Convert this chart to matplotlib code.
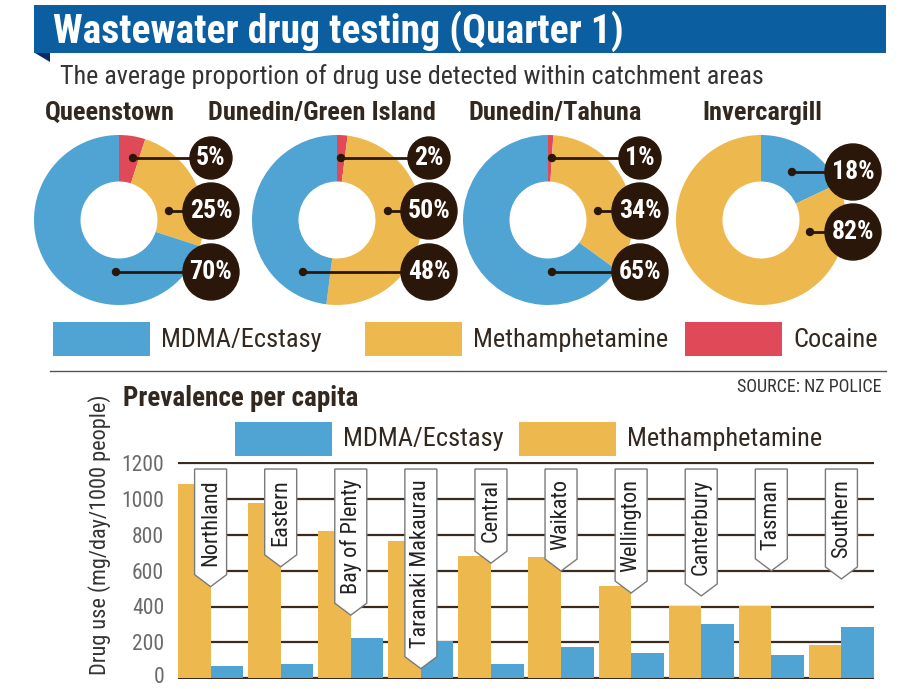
import matplotlib
matplotlib.use("Agg")
import matplotlib.pyplot as plt
import matplotlib.transforms as mtransforms
from matplotlib import font_manager
from matplotlib.patches import Rectangle, Circle, Polygon
import numpy as np

W, H = 920, 689

# share of detected drug use per catchment (%)
cities = ["Queenstown", "Dunedin/Green Island", "Dunedin/Tahuna", "Invercargill"]
mdma_share = [70, 48, 65, 18]
meth_share = [25, 50, 34, 82]
cocaine_share = [5, 2, 1, 0]

# prevalence per capita (mg/day/1000 people)
districts = ["Northland", "Eastern", "Bay of Plenty", "Taranaki Makaurau", "Central",
             "Waikato", "Wellington", "Canterbury", "Tasman", "Southern"]
meth_use = [1085, 978, 820, 764, 680, 677, 513, 405, 405, 185]
mdma_use = [68, 78, 223, 205, 76, 172, 140, 303, 127, 283]
yticks = [0, 200, 400, 600, 800, 1000, 1200]

BLUE = "#4fa4d3"
YELLOW = "#edb94f"
RED = "#e04a58"
BROWN = "#2a1709"
TEXT = "#33281f"
GREY = "#6a6a6a"
GRID = "#3b2b1f"

# pick a narrow face if one is installed
available = {f.name for f in font_manager.fontManager.ttflist}
narrow = next((f for f in ["Roboto Condensed", "Liberation Sans Narrow",
                           "Open Sans Condensed", "DejaVu Sans Condensed"]
               if f in available), "DejaVu Sans")
plt.rcParams["font.family"] = [narrow, "DejaVu Sans"]

fig = plt.figure(figsize=(W / 100, H / 100), dpi=100)


def px_axes(x0, y0, x1, y1):
    """axes placed with pixel coords measured from the top-left corner"""
    return fig.add_axes([x0 / W, 1 - y1 / H, (x1 - x0) / W, (y1 - y0) / H])


bg = fig.add_axes([0, 0, 1, 1])
bg.set_xlim(0, W)
bg.set_ylim(H, 0)
bg.axis("off")

# header banner
bg.add_patch(Rectangle((34, 5), 852, 48, color="#0b5ea0", lw=0))
bg.add_patch(Polygon([(35, 53), (50, 53), (50, 62)], closed=True, color="#0a2b6b", lw=0))
bg.text(53, 31, "Wastewater drug testing (Quarter 1)", color="white",
        fontsize=28.5, fontweight="bold", va="center")
bg.text(60, 77, "The average proportion of drug use detected within catchment areas",
        color="#333333", fontsize=18.8, va="center")

# ---- donuts ----
centers_x = [119, 337, 548, 761]
title_x = [110, 322, 555, 762]
label_y3 = [62, 9, -52]
label_y2 = [48, -12]
dot_x = [[14, 50, -3], [4, 51, -34], [4, 50, 4], [31, 49]]

for k, city in enumerate(cities):
    bg.text(title_x[k], 113, city, color=TEXT, fontsize=19, fontweight="bold",
            ha="center", va="center")
    if cocaine_share[k] > 0:
        vals = [cocaine_share[k], meth_share[k], mdma_share[k]]
        cols = [RED, YELLOW, BLUE]
        ly = label_y3
    else:
        vals = [mdma_share[k], meth_share[k]]
        cols = [BLUE, YELLOW]
        ly = label_y2
    cx = centers_x[k]
    ax = px_axes(cx - 90, 130, cx + 125, 310)
    ax.pie(vals, colors=cols, startangle=90, counterclock=False, radius=85,
           wedgeprops=dict(width=85 - 38.5, linewidth=0))
    ax.set_xlim(-90, 125)
    ax.set_ylim(-90, 90)
    ax.set_aspect("equal")
    ax.axis("off")
    for j, v in enumerate(vals):
        r = 21 if v < 10 else 28
        ax.plot([dot_x[k][j], 92], [ly[j], ly[j]], color=BROWN, lw=2, zorder=3)
        ax.add_patch(Circle((dot_x[k][j], ly[j]), 3.5, color=BROWN, zorder=3))
        ax.add_patch(Circle((92, ly[j]), r, color=BROWN, zorder=4, clip_on=False))
        ax.text(92, ly[j], f"{v}%", color="white", fontsize=18.5, fontweight="bold",
                ha="center", va="center", zorder=5)

# legend for donuts
leg_items = [(53, BLUE, "MDMA/Ecstasy"), (365, YELLOW, "Methamphetamine"), (685, RED, "Cocaine")]
for x0, c, name in leg_items:
    bg.add_patch(Rectangle((x0, 322), 97, 34, color=c, lw=0))
    bg.text(x0 + 108, 340, name, color=TEXT, fontsize=19, va="center")

bg.plot([50, 886], [371, 371], color="#555555", lw=1)
bg.text(882, 387, "SOURCE: NZ POLICE", color="#333333", fontsize=13, ha="right", va="center")

# ---- bar chart ----
bg.text(123, 398, "Prevalence per capita", color=TEXT, fontsize=19.5, fontweight="bold", va="center")
for x0, c, name in [(235, BLUE, "MDMA/Ecstasy"), (519, YELLOW, "Methamphetamine")]:
    bg.add_patch(Rectangle((x0, 422), 97, 34, color=c, lw=0))
    bg.text(x0 + 108, 439, name, color=TEXT, fontsize=19, va="center")
bg.text(100, 535, "Drug use (mg/day/1000 people)", color="#333333", fontsize=16,
        rotation=90, ha="center", va="center")

bx = px_axes(178, 461.7, 874, 678.9)
x = np.arange(len(districts))
bw = 0.465
bx.bar(x - bw / 2, meth_use, width=bw, color=YELLOW, zorder=2)
bx.bar(x + bw / 2, mdma_use, width=bw, color=BLUE, zorder=2)
bx.set_xlim(-bw, len(districts) - 1 + bw)
bx.set_ylim(-5, 1210)
bx.set_yticks(yticks)
bx.set_xticks([])
bx.yaxis.grid(True, color=GRID, lw=1.6, zorder=0)
bx.set_axisbelow(True)
bx.tick_params(axis="y", length=0, labelsize=15.5, labelcolor=GREY, pad=10)
for s in bx.spines.values():
    s.set_visible(False)
bx.patch.set_alpha(0)

# the "0" label sits on the bottom edge; lift it a touch so it is not clipped
zero_lbl = bx.get_yticklabels()[0]
zero_lbl.set_transform(zero_lbl.get_transform() +
                       mtransforms.ScaledTranslation(0, 3 / 100, fig.dpi_scale_trans))

# pointed name tags hanging from the top line
tags = [bx.text(i, 1113, name, rotation=90, ha="center", va="top", fontsize=16,
                color="#222222", zorder=6) for i, name in enumerate(districts)]
fig.canvas.draw()
inv = bx.transData.inverted()
top_disp = bx.transData.transform((0, 1169))[1]
for i, t in enumerate(tags):
    bb = t.get_window_extent()
    xc = bx.transData.transform((i, 0))[0]
    rect_bot = bb.y0 - 9
    tip = rect_bot - 12
    pts = [(xc - 16, top_disp), (xc + 16, top_disp), (xc + 16, rect_bot),
           (xc, tip), (xc - 16, rect_bot)]
    bx.add_patch(Polygon(inv.transform(pts), closed=True, facecolor="white",
                         edgecolor="#7a7a7a", lw=1, zorder=5))

fig.savefig("out.png", dpi=100)
